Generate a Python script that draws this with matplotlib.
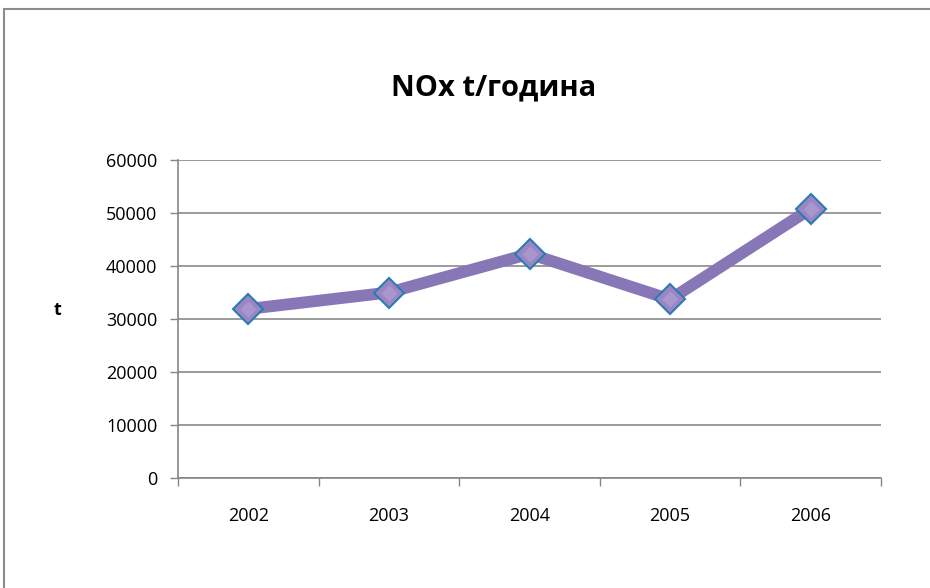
import matplotlib.pyplot as plt
from matplotlib.patches import Rectangle

years = ['2002', '2003', '2004', '2005', '2006']
nox = [31900, 35000, 42300, 33700, 50800]
y_ticks = [0, 10000, 20000, 30000, 40000, 50000, 60000]

plt.rcParams['font.family'] = ['Open Sans', 'DejaVu Sans']

fig = plt.figure(figsize=(9.3, 5.88), dpi=100)
W, H = 930, 588

# chart border (runs off the right and bottom edge)
fig.patches.append(Rectangle((4 / W, -0.1), 1.2, 1 - 9 / H + 0.1,
                             transform=fig.transFigure, fill=False,
                             edgecolor='#8c8c8c', lw=1.5))

ax = fig.add_axes([178 / W, 1 - 478 / H, (881 - 178) / W, (478 - 160) / H])

x = range(len(years))
ax.plot(x, nox, color='#8877b7', lw=8.5, solid_capstyle='round', zorder=3)
ax.plot(x, nox, linestyle='none', marker='D', ms=15, mfc='#9a86c4',
        mec='#2e7bb0', mew=1.5, zorder=4)
ax.plot(x, nox, linestyle='none', marker='D', ms=8, mfc='#a996cf',
        mec='none', zorder=5)

ax.set_xlim(-0.5, 4.5)
ax.set_ylim(0, 60000)
ax.set_yticks(y_ticks)
ax.set_yticklabels([str(v) for v in y_ticks], fontsize=13)
ax.set_xticks(list(x))
ax.set_xticklabels(years, fontsize=13)
ax.set_xticks([i - 0.5 for i in range(len(years) + 1)], minor=True)
ax.tick_params(axis='x', which='major', length=0, pad=21)
ax.tick_params(axis='x', which='minor', length=6, color='#868686', width=1)
ax.tick_params(axis='y', length=6, color='#868686', width=1, pad=9)

ax.grid(axis='y', color='#8a8a8a', lw=1.2)
ax.set_axisbelow(True)
for s in ['top', 'right']:
    ax.spines[s].set_visible(False)
for s in ['left', 'bottom']:
    ax.spines[s].set_color('#868686')
    ax.spines[s].set_linewidth(1.2)

fig.text(494 / W, 1 - 88 / H, 'NOx t/година', ha='center', va='center',
         fontsize=21, fontweight='bold')
fig.text(57 / W, 1 - 310 / H, 't', ha='center', va='center',
         fontsize=13, fontweight='bold')

fig.savefig('out.png', dpi=100)
